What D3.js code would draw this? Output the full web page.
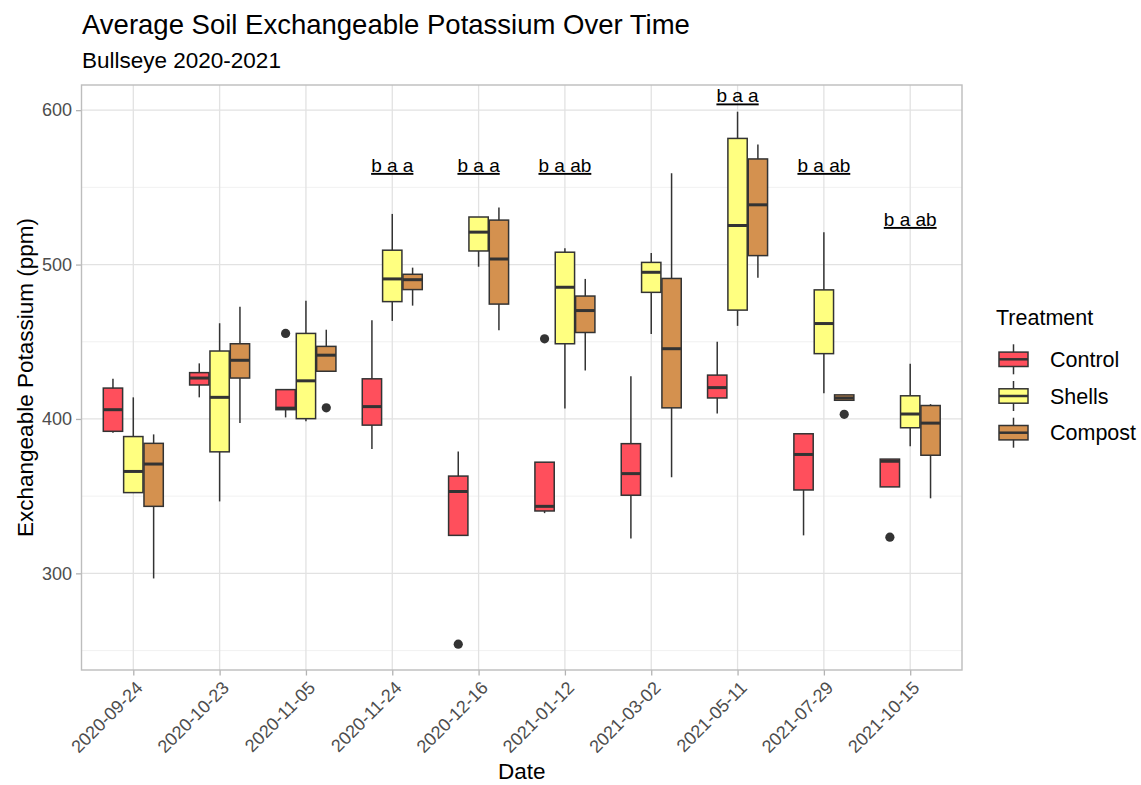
<!DOCTYPE html>
<html>
<head>
<meta charset="utf-8">
<script src="https://cdn.jsdelivr.net/npm/d3@7"></script>
<style>
  body { margin: 0; background: #fff; }
  text { font-family: "Liberation Sans", Arial, Helvetica, sans-serif; }
</style>
</head>
<body>
<div id="chart"></div>
<script>
// data
var dates = ["2020-09-24", "2020-10-23", "2020-11-05", "2020-11-24", "2020-12-16",
             "2021-01-12", "2021-03-02", "2021-05-11", "2021-07-29", "2021-10-15"];
var treatments = ["Control", "Shells", "Compost"];
var colors = ["#FF4F5C", "#FFFF80", "#D4914F"];

// [lower whisker, q1, median, q3, upper whisker] per date
var controlStats = [
  [391, 392, 406, 420, 426], [414, 422, 426.5, 430, 436], [401, 406, 407, 419, 419],
  [380.5, 396, 408, 426, 464], [324.6, 324.6, 353, 363, 379], [339, 340.4, 343.4, 372, 372],
  [322.6, 350.6, 364.6, 384, 427.7], [403.5, 413.6, 420.3, 428.4, 450], [324.6, 354, 377, 390.4, 390.4],
  [356, 356, 372.6, 374, 374]];
var shellsStats = [
  [352, 352.3, 366, 388.6, 414], [346.6, 378.7, 414, 444, 462], [398.5, 400.2, 424.7, 455.4, 476.6],
  [463.5, 476, 490.7, 509.3, 532.8], [498.6, 508.8, 521, 530.8, 530.8], [406.7, 448.7, 485.3, 508, 510.5],
  [455, 482, 495, 501.4, 507.5], [460.3, 470.5, 525.3, 581.7, 599], [416.6, 442.3, 461.8, 483.6, 521],
  [382.4, 394.3, 403.2, 415, 435.8]];
var compostStats = [
  [296.7, 343.4, 370.8, 384.2, 390], [397.3, 426.5, 438, 448.7, 472.7], [430.9, 430.9, 441.3, 447, 457.8],
  [473.4, 483.8, 490.2, 493.7, 498], [457.4, 474.4, 503.6, 528.8, 537], [431.4, 456, 470.2, 479.6, 490.7],
  [362.2, 407.2, 445.5, 491, 559.2], [491.5, 505.8, 538.7, 568.4, 577.8], [412.1, 412.1, 413.6, 415.6, 415.6],
  [348.6, 376.5, 397.3, 408.7, 409.6]];

var outlierDates  = ["2020-11-05", "2020-11-05", "2020-12-16", "2021-01-12", "2021-07-29", "2021-10-15"];
var outlierGroups = ["Control", "Compost", "Control", "Control", "Compost", "Control"];
var outlierValues = [455.4, 407.2, 254.1, 451.9, 403, 323.4];

var letters = ["", "", "", "b a a", "b a a", "b a ab", "", "b a a", "b a ab", "b a ab"];
var letterY = [null, null, null, 560, 560, 560, null, 605, 560, 525];

var yTicks = [300, 400, 500, 600];
var yMinor = [250, 350, 450, 550];

var svgWidth = 1141, svgHeight = 785;
var margin = { top: 85, left: 81.5 };
var width = 962 - 81.5;
var height = 670 - 85;

var svg = d3.select("#chart").append("svg").attr("width", svgWidth).attr("height", svgHeight);
var chartGroup = svg.append("g").attr("transform", `translate(${margin.left}, ${margin.top})`);

var xScale = d3.scalePoint().domain(dates).range([0, width]).padding(0.6);
var dodge = d3.scaleBand().domain(treatments).range([-30, 30]).paddingInner(0.05);
var yScale = d3.scaleLinear().domain([237.4, 616.3]).range([height, 0]);
var fill = d3.scaleOrdinal().domain(treatments).range(colors);

// grid
chartGroup.selectAll(".minor").data(yMinor).enter().append("line")
  .attr("x1", 0).attr("x2", width)
  .attr("y1", d => yScale(d)).attr("y2", d => yScale(d))
  .attr("stroke", "#EDEDED").attr("stroke-width", 0.8);
chartGroup.selectAll(".major").data(yTicks).enter().append("line")
  .attr("x1", 0).attr("x2", width)
  .attr("y1", d => yScale(d)).attr("y2", d => yScale(d))
  .attr("stroke", "#E2E2E2").attr("stroke-width", 1.3);
chartGroup.selectAll(".vmajor").data(dates).enter().append("line")
  .attr("x1", d => xScale(d)).attr("x2", d => xScale(d))
  .attr("y1", 0).attr("y2", height)
  .attr("stroke", "#E2E2E2").attr("stroke-width", 1.3);

// axes
var leftAxis = d3.axisLeft(yScale).tickValues(yTicks).tickSize(5.5).tickPadding(4);
var yAxis = chartGroup.append("g").call(leftAxis);
var bottomAxis = d3.axisBottom(xScale).tickSize(5.5);
var xAxis = chartGroup.append("g").attr("transform", `translate(0, ${height})`).call(bottomAxis);
[xAxis, yAxis].forEach(function(ax) {
  ax.select(".domain").remove();
  ax.selectAll(".tick line").attr("stroke", "#B3B3B3").attr("stroke-width", 1.3);
  ax.selectAll(".tick text").attr("fill", "#4D4D4D").style("font-size", "18px")
    .style("font-family", '"Liberation Sans", Arial, sans-serif');
});
xAxis.selectAll(".tick text")
  .attr("y", null).attr("dy", null)
  .attr("text-anchor", "end")
  .attr("transform", "translate(10, 19) rotate(-45)");

// panel border
chartGroup.append("rect").attr("x", 0).attr("y", 0).attr("width", width).attr("height", height)
  .attr("fill", "none").attr("stroke", "#BDBDBD").attr("stroke-width", 1.4);

// boxes built from the stats arrays
var allStats = [controlStats, shellsStats, compostStats];
var boxes = [];
treatments.forEach(function(t, ti) {
  allStats[ti].forEach(function(s, i) {
    boxes.push({ date: dates[i], treatment: t, lo: s[0], q1: s[1], med: s[2], q3: s[3], hi: s[4] });
  });
});

var bw = dodge.bandwidth();
var boxGroup = chartGroup.selectAll(".box").data(boxes).enter().append("g")
  .attr("transform", d => `translate(${xScale(d.date) + dodge(d.treatment) + bw / 2}, 0)`);

boxGroup.append("line")
  .attr("x1", 0).attr("x2", 0)
  .attr("y1", d => yScale(d.hi)).attr("y2", d => yScale(d.lo))
  .attr("stroke", "#333").attr("stroke-width", 1.5);
boxGroup.append("rect")
  .attr("x", -bw / 2).attr("width", bw)
  .attr("y", d => yScale(d.q3))
  .attr("height", d => yScale(d.q1) - yScale(d.q3))
  .attr("fill", d => fill(d.treatment))
  .attr("stroke", "#333").attr("stroke-width", 1.5);
boxGroup.append("line")
  .attr("x1", -bw / 2).attr("x2", bw / 2)
  .attr("y1", d => yScale(d.med)).attr("y2", d => yScale(d.med))
  .attr("stroke", "#333").attr("stroke-width", 3);

// outliers
chartGroup.selectAll(".outlier").data(outlierValues).enter().append("circle")
  .attr("cx", (d, i) => xScale(outlierDates[i]) + dodge(outlierGroups[i]) + bw / 2)
  .attr("cy", d => yScale(d))
  .attr("r", 4.6).attr("fill", "#333");

// significance letters
letters.forEach(function(l, i) {
  if (!l) return;
  chartGroup.append("text")
    .attr("x", xScale(dates[i])).attr("y", yScale(letterY[i]))
    .attr("text-anchor", "middle")
    .style("font-size", "19px").style("text-decoration", "underline")
    .attr("fill", "#000").text(l);
});

// titles
svg.append("text").attr("x", 82).attr("y", 34).style("font-size", "27.5px").text("Average Soil Exchangeable Potassium Over Time");
svg.append("text").attr("x", 82).attr("y", 68).style("font-size", "22.5px").text("Bullseye 2020-2021");
svg.append("text").attr("x", margin.left + width / 2).attr("y", 779).attr("text-anchor", "middle")
  .style("font-size", "22.5px").text("Date");
svg.append("text").attr("transform", `translate(33, ${margin.top + height / 2}) rotate(-90)`)
  .attr("text-anchor", "middle").style("font-size", "22.5px").text("Exchangeable Potassium (ppm)");

// legend
var legend = svg.append("g").attr("transform", "translate(996, 0)");
legend.append("text").attr("x", 0).attr("y", 325).style("font-size", "21.5px").text("Treatment");
var keys = legend.selectAll(".key").data(treatments).enter().append("g")
  .attr("transform", (d, i) => `translate(0, ${359.3 + i * 36.7})`);
keys.append("line").attr("x1", 17.5).attr("x2", 17.5).attr("y1", -15).attr("y2", 15)
  .attr("stroke", "#333").attr("stroke-width", 1.5);
keys.append("rect").attr("x", 3).attr("y", -7.2).attr("width", 29).attr("height", 14.4)
  .attr("fill", d => fill(d)).attr("stroke", "#333").attr("stroke-width", 1.5);
keys.append("line").attr("x1", 3).attr("x2", 32).attr("y1", 0).attr("y2", 0)
  .attr("stroke", "#333").attr("stroke-width", 2.5);
keys.append("text").attr("x", 54).attr("dy", "0.35em").style("font-size", "21.5px").text(d => d);
</script>
</body>
</html>
